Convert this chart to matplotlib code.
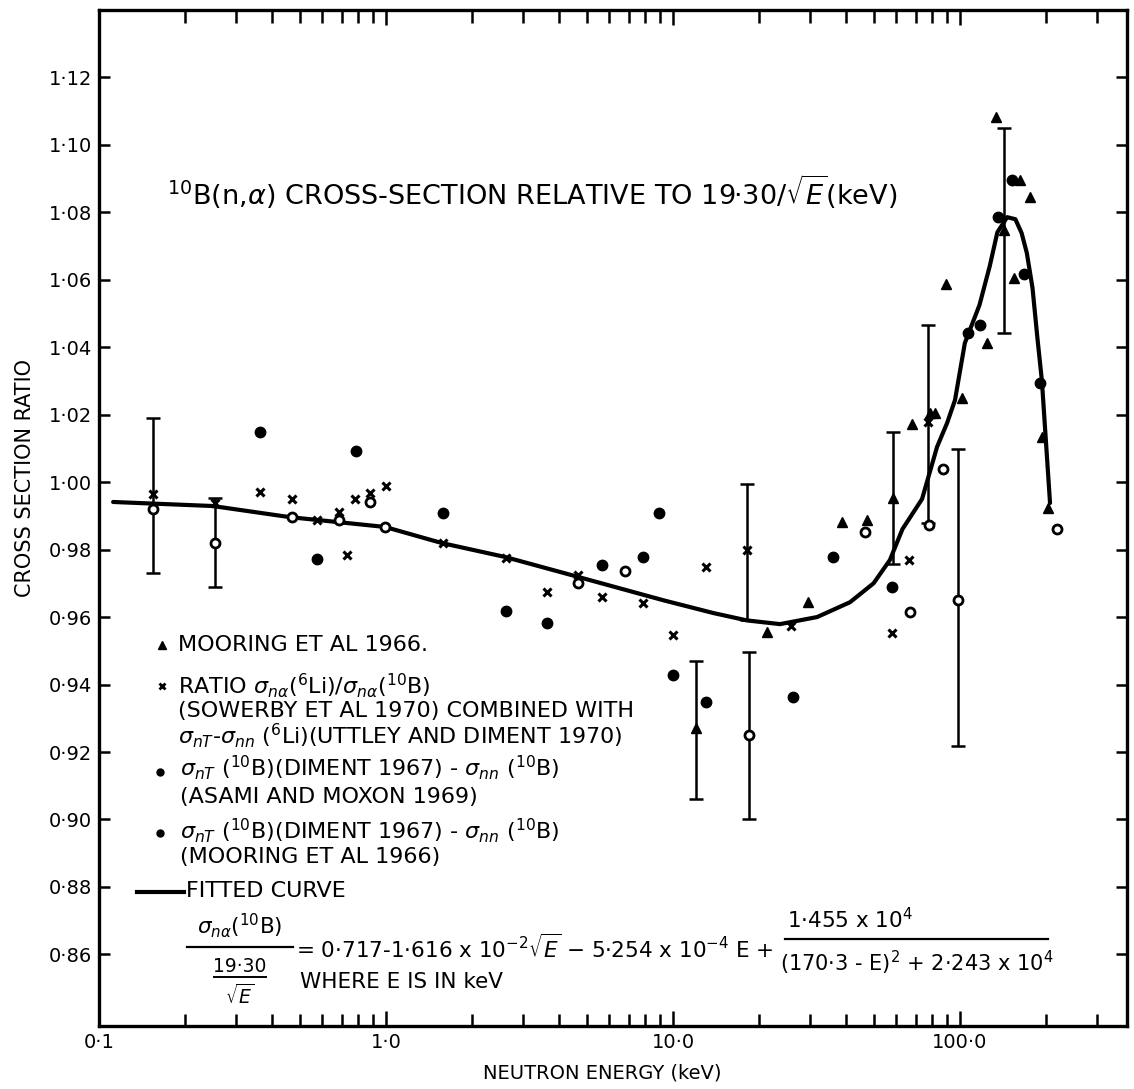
import matplotlib
matplotlib.use("Agg")
import matplotlib.pyplot as plt
from matplotlib.lines import Line2D
from matplotlib.ticker import FixedLocator, FixedFormatter, LogLocator, NullFormatter

W, H = 1134, 1089
plt.rcParams['font.family'] = ['DejaVu Sans']
plt.rcParams['mathtext.fontset'] = 'dejavusans'

# ---------------- data ----------------
# Fitted curve
curve_E = [0.112, 0.249, 0.463, 0.992, 1.57, 2.60, 4.67, 9.23, 13.8, 18.1, 23.6, 31.8,
           41.4, 50.0, 57.0, 63.0, 73.8, 83.2, 90.2, 96.1, 104, 117, 127, 135, 146,
           156, 164, 171, 179, 186, 193, 201, 206]
curve_R = [0.9941, 0.9929, 0.9896, 0.9867, 0.9819, 0.9778, 0.9719, 0.9650, 0.9612, 0.9590,
           0.9579, 0.9600, 0.9644, 0.9700, 0.9769, 0.9860, 0.9950, 1.0104, 1.0175, 1.0243,
           1.0412, 1.0525, 1.0640, 1.0740, 1.0785, 1.0779, 1.0738, 1.0679, 1.0575, 1.0430,
           1.0300, 1.0074, 0.9938]

# Mooring et al 1966 (triangles)
tri_E = [12.0, 21.3, 29.5, 38.8, 47.4, 58.4, 68.0, 78.6, 81.8, 89.4, 101.6, 124,
         133.4, 142, 154, 162, 175, 193, 203]
tri_R = [0.927, 0.9556, 0.9644, 0.9881, 0.9887, 0.9953, 1.0172, 1.0204, 1.0204, 1.0587,
         1.0249, 1.0412, 1.1081, 1.0747, 1.0604, 1.0895, 1.0844, 1.0133, 0.9923]

# Ratio sigma_na(6Li)/sigma_na(10B) (crosses)
x_E = [0.154, 0.2535, 0.364, 0.47, 0.574, 0.686, 0.73, 0.78, 0.88, 1.0, 1.58, 2.62,
       3.64, 4.67, 5.66, 7.86, 10.0, 13.0, 18.1, 25.8, 58.0, 66.4, 77.4]
x_R = [0.9964, 0.9938, 0.997, 0.995, 0.9887, 0.991, 0.9784, 0.995, 0.9967, 0.9988, 0.982,
       0.9775, 0.9674, 0.9724, 0.9659, 0.9641, 0.9547, 0.9748, 0.9799, 0.9573, 0.9553,
       0.9769, 1.0178]

# sigma_nT - sigma_nn (Asami and Moxon 1969) (filled dots)
dot_E = [0.364, 0.574, 0.786, 1.58, 2.62, 3.64, 5.66, 7.86, 8.93, 10.0, 13.0, 26.2,
         36.1, 58.0, 106.6, 117.5, 136, 152, 167, 190]
dot_R = [1.0148, 0.9772, 1.0092, 0.9908, 0.9618, 0.9582, 0.9754, 0.9778, 0.9908, 0.9428,
         0.9348, 0.9363, 0.9778, 0.9689, 1.0441, 1.0465, 1.0785, 1.0895, 1.0616, 1.0293]

# sigma_nT - sigma_nn (Mooring et al 1966) (open circles)
ring_E = [0.154, 0.2535, 0.47, 0.686, 0.88, 0.99, 4.67, 6.81, 18.4, 46.7, 67.0, 78.0,
          87.3, 98.4, 218]
ring_R = [0.992, 0.982, 0.9896, 0.9887, 0.994, 0.9867, 0.970, 0.9736, 0.925, 0.9852,
          0.9615, 0.9872, 1.0039, 0.965, 0.986]

# Error bars
err_E = [0.154, 0.2535, 12.0, 18.1, 18.4, 58.4, 77.4, 98.4, 142]
err_lo = [0.973, 0.969, 0.906, 0.959, 0.900, 0.9757, 0.988, 0.9218, 1.0441]
err_hi = [1.019, 0.9953, 0.947, 0.9994, 0.9496, 1.0148, 1.0465, 1.0098, 1.1049]

x_ticks = [0.1, 1.0, 10.0, 100.0]
x_ticklabels = ["0·1", "1·0", "10·0", "100·0"]
y_ticks = [0.86, 0.88, 0.90, 0.92, 0.94, 0.96, 0.98, 1.00, 1.02, 1.04, 1.06, 1.08, 1.10, 1.12]
y_ticklabels = ["0·86", "0·88", "0·90", "0·92", "0·94", "0·96", "0·98", "1·00",
                "1·02", "1·04", "1·06", "1·08", "1·10", "1·12"]

# ---------------- figure ----------------
def fx(px):
    return px / W

def fy(py):
    return 1 - py / H

fig = plt.figure(figsize=(W / 100, H / 100), dpi=100)
fig.patch.set_facecolor('white')
ax = fig.add_axes([fx(99), fy(1026), (1127 - 99) / W, (1026 - 10) / H])
ax.set_xscale('log')
ax.set_xlim(0.1, 382)
ax.set_ylim(0.8388, 1.1399)

for s in ax.spines.values():
    s.set_linewidth(2.4)

ax.xaxis.set_major_locator(FixedLocator(x_ticks))
ax.xaxis.set_major_formatter(FixedFormatter(x_ticklabels))
ax.xaxis.set_minor_locator(LogLocator(base=10, subs=[2, 3, 4, 5, 6, 7, 8, 9], numticks=20))
ax.xaxis.set_minor_formatter(NullFormatter())
ax.yaxis.set_major_locator(FixedLocator(y_ticks))
ax.yaxis.set_major_formatter(FixedFormatter(y_ticklabels))

ax.tick_params(axis='both', which='both', direction='in', top=True, right=True, width=1.8)
ax.tick_params(axis='x', which='major', length=11, labelsize=14, pad=5)
ax.tick_params(axis='x', which='minor', length=9)
ax.tick_params(axis='y', which='major', length=8, labelsize=14, pad=5)

# curve
ax.plot(curve_E, curve_R, color='black', lw=3.0, solid_capstyle='round', zorder=3)

# error bars
ax.vlines(err_E, err_lo, err_hi, color='black', lw=1.8, zorder=2)
ax.plot(err_E, err_lo, ls='none', marker='_', ms=10, mew=1.8, color='black')
ax.plot(err_E, err_hi, ls='none', marker='_', ms=10, mew=1.8, color='black')

# points
ax.plot(tri_E, tri_R, ls='none', marker='^', ms=7.5, color='black', zorder=4)
ax.plot(x_E, x_R, ls='none', marker='x', ms=6, mew=2.2, color='black', zorder=4)
ax.plot(dot_E, dot_R, ls='none', marker='o', ms=7.5, color='black', zorder=4)
ax.plot(ring_E, ring_R, ls='none', marker='o', ms=6.5, mfc='white', mec='black', mew=2.0, zorder=4)

# ---------------- texts ----------------
fig.text(fx(167), fy(192),
         r"$^{10}$B(n,$\alpha$) CROSS-SECTION RELATIVE TO 19·30/$\sqrt{E}$(keV)",
         fontsize=19.5, va='center', ha='left')

fig.text(fx(25), fy(478), "CROSS SECTION RATIO", rotation=90, fontsize=15,
         ha='center', va='center')
fig.text(fx(602), fy(1073), "NEUTRON ENERGY (keV)", fontsize=14, ha='center', va='center')

fs = 16
def mk(px, py, **kw):
    fig.add_artist(Line2D([fx(px)], [fy(py)], ls='none', color='black', **kw))

mk(162, 645, marker='^', ms=6)
fig.text(fx(178), fy(645), "MOORING ET AL 1966.", fontsize=fs, va='center')
mk(162, 686, marker='x', ms=5, mew=2)
fig.text(fx(178), fy(686), r"RATIO $\sigma_{n\alpha}(^{6}$Li$)/\sigma_{n\alpha}(^{10}$B$)$",
         fontsize=fs, va='center')
fig.text(fx(178), fy(711), "(SOWERBY ET AL 1970) COMBINED WITH", fontsize=fs, va='center')
fig.text(fx(178), fy(736), r"$\sigma_{nT}$-$\sigma_{nn}$ $(^{6}$Li$)$(UTTLEY AND DIMENT 1970)",
         fontsize=fs, va='center')
mk(160, 772, marker='o', ms=5)
fig.text(fx(180), fy(768), r"$\sigma_{nT}$ $(^{10}$B$)$(DIMENT 1967) - $\sigma_{nn}$ $(^{10}$B$)$",
         fontsize=fs, va='center')
fig.text(fx(180), fy(797), "(ASAMI AND MOXON 1969)", fontsize=fs, va='center')
mk(160, 833, marker='o', ms=5)
fig.text(fx(180), fy(831), r"$\sigma_{nT}$ $(^{10}$B$)$(DIMENT 1967) - $\sigma_{nn}$ $(^{10}$B$)$",
         fontsize=fs, va='center')
fig.text(fx(180), fy(857), "(MOORING ET AL 1966)", fontsize=fs, va='center')
fig.add_artist(Line2D([fx(137), fx(184)], [fy(892), fy(892)], color='black', lw=3))
fig.text(fx(186), fy(891), "FITTED CURVE", fontsize=fs, va='center')

# formula
ffs = 15.5
fig.text(fx(240), fy(926), r"$\sigma_{n\alpha}$($^{10}$B)", fontsize=ffs, ha='center', va='center')
fig.add_artist(Line2D([fx(187), fx(293)], [fy(947), fy(947)], color='black', lw=1.6))
fig.text(fx(240), fy(966), "19·30", fontsize=ffs - 2, ha='center', va='center')
fig.add_artist(Line2D([fx(214), fx(266)], [fy(977), fy(977)], color='black', lw=1.4))
fig.text(fx(240), fy(996), r"$\sqrt{E}$", fontsize=ffs - 2, ha='center', va='center')
fig.text(fx(296), fy(948),
         r"= 0·717-1·616 x 10$^{-2}$$\sqrt{E}$ $-$ 5·254 x 10$^{-4}$ E +",
         fontsize=ffs, ha='left', va='center')
fig.text(fx(850), fy(920), r"1·455 x 10$^{4}$", fontsize=ffs, ha='center', va='center')
fig.add_artist(Line2D([fx(785), fx(1048)], [fy(939), fy(939)], color='black', lw=1.6))
fig.text(fx(917), fy(963), r"(170·3 - E)$^{2}$ + 2·243 x 10$^{4}$", fontsize=ffs - 0.5,
         ha='center', va='center')
fig.text(fx(300), fy(982), "WHERE E IS IN keV", fontsize=ffs, ha='left', va='center')

fig.savefig("out.png", dpi=100, facecolor='white')
